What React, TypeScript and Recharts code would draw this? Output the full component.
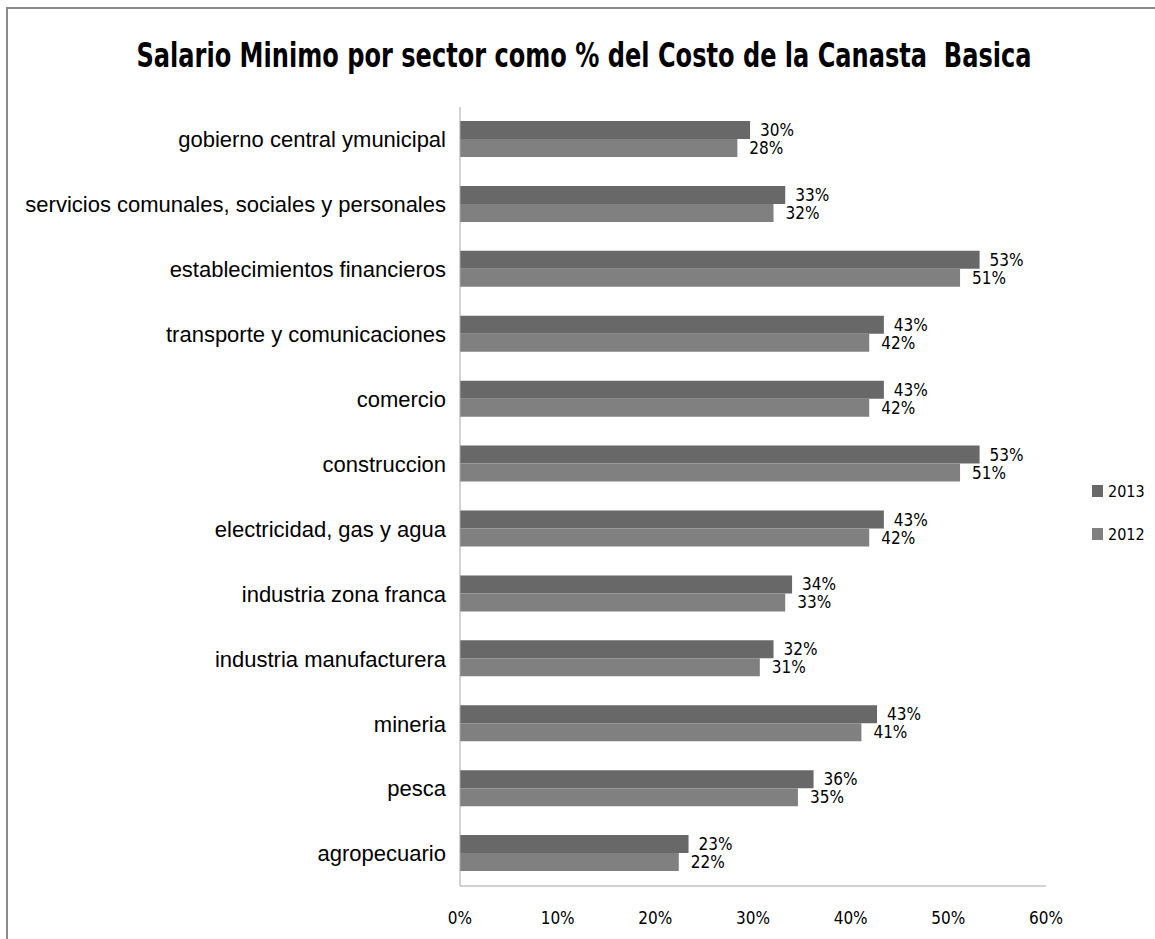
import { BarChart, Bar, XAxis, YAxis, Legend, LabelList } from "recharts";

const sectors = [
  "gobierno central ymunicipal",
  "servicios comunales, sociales y personales",
  "establecimientos financieros",
  "transporte y comunicaciones",
  "comercio",
  "construccion",
  "electricidad, gas y agua",
  "industria zona franca",
  "industria manufacturera",
  "mineria",
  "pesca",
  "agropecuario",
];

const values2013 = [29.7, 33.3, 53.2, 43.4, 43.4, 53.2, 43.4, 34.0, 32.1, 42.7, 36.2, 23.4];
const values2012 = [28.4, 32.1, 51.2, 41.9, 41.9, 51.2, 41.9, 33.3, 30.7, 41.1, 34.6, 22.4];

const xTicks = [0, 10, 20, 30, 40, 50, 60];

const data = sectors.map((name, i) => ({
  name,
  y2013: values2013[i],
  y2012: values2012[i],
}));

const NARROW = '"Liberation Sans Narrow", "DejaVu Sans Condensed", sans-serif';
const ARIAL = '"Liberation Sans", Arial, sans-serif';

const pct = (v: any) => `${Math.round(Number(v))}%`;

// legend shows 2013 above 2012, like the bars
const renderLegend = (props: any) => {
  const items = [...(props.payload || [])].sort((a: any, b: any) =>
    String(b.value).localeCompare(String(a.value))
  );
  return (
    <div style={{ fontFamily: NARROW, fontSize: 16, color: "#000" }}>
      {items.map((item: any) => (
        <div key={item.value} style={{ display: "flex", alignItems: "center", height: 22, marginBottom: 21 }}>
          <div style={{ width: 11, height: 12, backgroundColor: item.color, marginRight: 5 }} />
          <span>{item.value}</span>
        </div>
      ))}
    </div>
  );
};

export default function App() {
  return (
    <div style={{ position: "absolute", left: 0, top: 0, width: 1155, height: 939, overflow: "hidden", background: "#fff" }}>
      <div
        style={{
          position: "absolute",
          left: 6,
          top: 7,
          width: 1200,
          height: 1000,
          borderTop: "2px solid #8a8a8a",
          borderLeft: "2px solid #8a8a8a",
        }}
      />
      <svg width={1155} height={100} style={{ position: "absolute", left: 0, top: 0 }}>
        <text
          x={584}
          y={67}
          textAnchor="middle"
          textLength={895}
          lengthAdjust="spacingAndGlyphs"
          style={{ fontFamily: NARROW, fontWeight: 700, fontSize: 33, fill: "#000", whiteSpace: "pre" }}
        >
          {"Salario Minimo por sector como % del Costo de la Canasta  Basica"}
        </text>
      </svg>
      <div style={{ position: "absolute", left: 0, top: 0 }}>
        <BarChart
          width={1155}
          height={939}
          data={data}
          layout="vertical"
          margin={{ top: 107, right: 109, bottom: 13, left: 0 }}
          barGap={0}
          barSize={18}
        >
          <XAxis
            type="number"
            domain={[0, 60]}
            ticks={xTicks}
            tickFormatter={(v) => `${v}%`}
            axisLine={{ stroke: "#a6a6a6" }}
            tickLine={false}
            tickSize={6}
            tickMargin={20}
            height={40}
            tick={{ fill: "#000", fontSize: 17, fontFamily: NARROW }}
          />
          <YAxis
            type="category"
            dataKey="name"
            width={460}
            axisLine={{ stroke: "#a6a6a6" }}
            tickLine={false}
            tickSize={6}
            tickMargin={8}
            interval={0}
            tick={{ fill: "#000", fontSize: 22, fontFamily: ARIAL }}
          />
          <Legend
            layout="vertical"
            align="center"
            verticalAlign="middle"
            wrapperStyle={{ left: 1092, top: 480, width: 60 }}
            content={renderLegend}
          />
          <Bar dataKey="y2013" name="2013" fill="#686868" isAnimationActive={false}>
            <LabelList
              dataKey="y2013"
              position="right"
              offset={10}
              formatter={pct}
              style={{ fill: "#000", fontSize: 17, fontFamily: NARROW }}
            />
          </Bar>
          <Bar dataKey="y2012" name="2012" fill="#808080" isAnimationActive={false}>
            <LabelList
              dataKey="y2012"
              position="right"
              offset={12}
              formatter={pct}
              style={{ fill: "#000", fontSize: 17, fontFamily: NARROW }}
            />
          </Bar>
        </BarChart>
      </div>
    </div>
  );
}
